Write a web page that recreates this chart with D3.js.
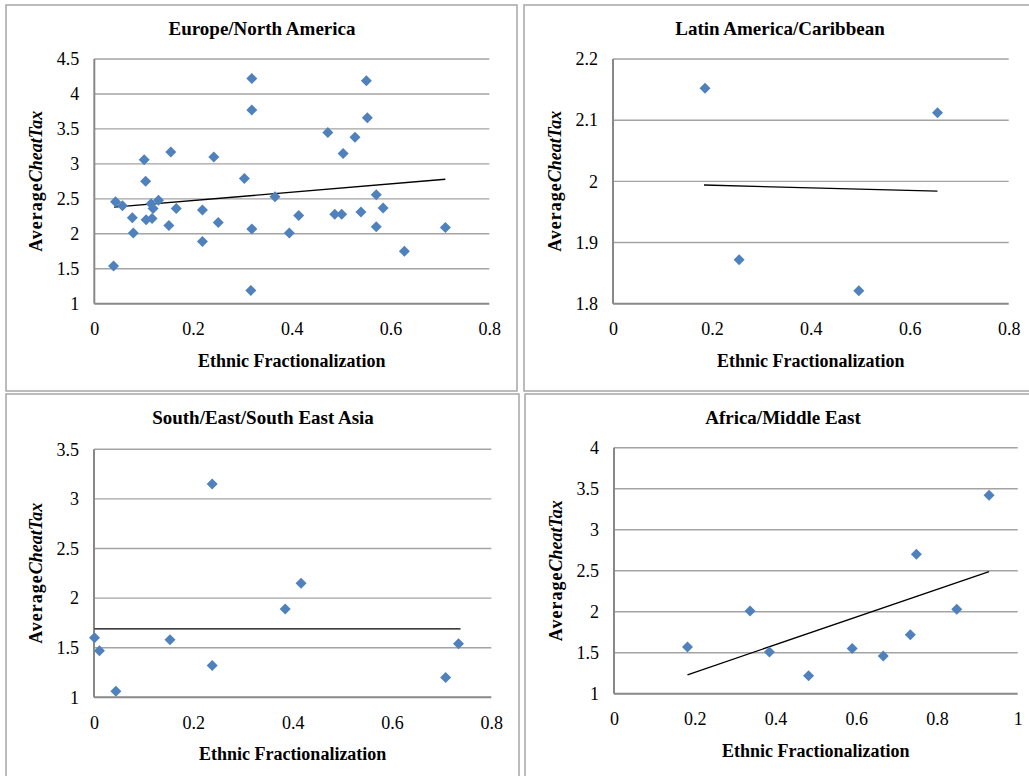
<!DOCTYPE html>
<html>
<head>
<meta charset="utf-8">
<script src="https://cdn.jsdelivr.net/npm/d3@7"></script>
<style>
  html, body { margin: 0; padding: 0; background: #fff; }
  svg { display: block; }
</style>
</head>
<body>
<svg id="chart" width="1029" height="776"></svg>
<script>
// ---------------- DATA ----------------
const panelTitles = ["Europe/North America", "Latin America/Caribbean", "South/East/South East Asia", "Africa/Middle East"];
const xAxisTitle = "Ethnic Fractionalization";

// Europe / North America
const euroX = [0.039, 0.043, 0.057, 0.077, 0.079, 0.101, 0.104, 0.105, 0.115, 0.119, 0.117, 0.130, 0.155, 0.151, 0.166, 0.219, 0.219, 0.242, 0.251, 0.304, 0.319, 0.319, 0.319, 0.317, 0.366, 0.395, 0.414, 0.473, 0.504, 0.528, 0.487, 0.501, 0.540, 0.551, 0.553, 0.571, 0.571, 0.585, 0.628, 0.711];
const euroY = [1.54, 2.46, 2.40, 2.23, 2.01, 3.06, 2.75, 2.20, 2.43, 2.36, 2.22, 2.48, 3.17, 2.12, 2.36, 2.34, 1.89, 3.10, 2.16, 2.79, 4.22, 3.77, 2.07, 1.19, 2.53, 2.01, 2.26, 3.45, 3.15, 3.38, 2.28, 2.28, 2.31, 4.19, 3.66, 2.56, 2.10, 2.37, 1.75, 2.09];
const euroTrendX = [0.04, 0.711];
const euroTrendY = [2.38, 2.78];
const euroXTicks = [0, 0.2, 0.4, 0.6, 0.8];
const euroYTicks = [1, 1.5, 2, 2.5, 3, 3.5, 4, 4.5];

// Latin America / Caribbean
const latinX = [0.186, 0.656, 0.255, 0.497];
const latinY = [2.152, 2.112, 1.872, 1.821];
const latinTrendX = [0.184, 0.656];
const latinTrendY = [1.994, 1.984];
const latinXTicks = [0, 0.2, 0.4, 0.6, 0.8];
const latinYTicks = [1.8, 1.9, 2.0, 2.1, 2.2];

// South / East / South East Asia
const asiaX = [0.001, 0.011, 0.044, 0.153, 0.238, 0.238, 0.385, 0.417, 0.708, 0.734];
const asiaY = [1.60, 1.47, 1.06, 1.58, 3.15, 1.32, 1.89, 2.15, 1.20, 1.54];
const asiaTrendX = [0.001, 0.738];
const asiaTrendY = [1.69, 1.69];
const asiaXTicks = [0, 0.2, 0.4, 0.6, 0.8];
const asiaYTicks = [1, 1.5, 2, 2.5, 3, 3.5];

// Africa / Middle East
const africaX = [0.182, 0.337, 0.385, 0.482, 0.590, 0.667, 0.734, 0.749, 0.849, 0.929];
const africaY = [1.57, 2.01, 1.51, 1.22, 1.55, 1.46, 1.72, 2.70, 2.03, 3.42];
const africaTrendX = [0.182, 0.929];
const africaTrendY = [1.23, 2.49];
const africaXTicks = [0, 0.2, 0.4, 0.6, 0.8, 1];
const africaYTicks = [1, 1.5, 2, 2.5, 3, 3.5, 4];

// ---------------- LAYOUT ----------------
const svg = d3.select("#chart");
const FONT = "'Liberation Serif', 'Times New Roman', Times, serif";

const panels = [
  { title: panelTitles[0], xs: euroX, ys: euroY, tx: euroTrendX, ty: euroTrendY, xTicks: euroXTicks, yTicks: euroYTicks,
    box: [6, 5, 517, 391], plot: [94.3, 59, 489.3, 303.7], titleCx: 262 },
  { title: panelTitles[1], xs: latinX, ys: latinY, tx: latinTrendX, ty: latinTrendY, xTicks: latinXTicks, yTicks: latinYTicks,
    box: [524, 5, 1040, 391], plot: [613, 59, 1008.7, 303.7], titleCx: 780 },
  { title: panelTitles[2], xs: asiaX, ys: asiaY, tx: asiaTrendX, ty: asiaTrendY, xTicks: asiaXTicks, yTicks: asiaYTicks,
    box: [6, 394, 519, 790], plot: [94, 449.3, 491.3, 697.3], titleCx: 263 },
  { title: panelTitles[3], xs: africaX, ys: africaY, tx: africaTrendX, ty: africaTrendY, xTicks: africaXTicks, yTicks: africaYTicks,
    box: [525, 394, 1040, 790], plot: [614, 447.7, 1017.7, 693.7], titleCx: 783 }
];

const numFmt = v => (Math.round(v * 10) / 10).toString();

function styleTicks(sel) {
  sel.attr("font-family", FONT).attr("font-size", 18);
  sel.selectAll("text")
    .attr("font-family", FONT).attr("font-size", 18)
    .style("font-family", FONT).style("font-size", "18px").attr("fill", "#000");
}

panels.forEach(p => {
  const g = svg.append("g");
  const [bx0, by0, bx1, by1] = p.box;
  g.append("rect")
    .attr("x", bx0).attr("y", by0)
    .attr("width", bx1 - bx0).attr("height", by1 - by0)
    .attr("fill", "#fff").attr("stroke", "#a6a6a6").attr("stroke-width", 1.5);

  const [L, T, R, B] = p.plot;
  const x = d3.scaleLinear().domain([p.xTicks[0], p.xTicks[p.xTicks.length - 1]]).range([L, R]);
  const y = d3.scaleLinear().domain([p.yTicks[0], p.yTicks[p.yTicks.length - 1]]).range([B, T]);

  // gridlines
  g.append("g").selectAll("line").data(p.yTicks.slice(1)).join("line")
    .attr("x1", L).attr("x2", R)
    .attr("y1", d => y(d)).attr("y2", d => y(d))
    .attr("stroke", "#a3a3a3").attr("stroke-width", 1.4);

  // y axis labels
  const yAxis = d3.axisLeft(y).tickValues(p.yTicks).tickSize(0).tickPadding(15).tickFormat(numFmt);
  const ya = g.append("g").attr("transform", `translate(${L},0)`).call(yAxis);
  ya.select(".domain").remove();
  styleTicks(ya);

  // x axis labels
  const xAxis = d3.axisBottom(x).tickValues(p.xTicks).tickSize(0).tickPadding(19).tickFormat(numFmt);
  const xa = g.append("g").attr("transform", `translate(0,${B})`).call(xAxis);
  xa.select(".domain").remove();
  styleTicks(xa);

  // axis lines
  g.append("line").attr("x1", L).attr("x2", L).attr("y1", T).attr("y2", B)
    .attr("stroke", "#888").attr("stroke-width", 2);
  g.append("line").attr("x1", L).attr("x2", R).attr("y1", B).attr("y2", B)
    .attr("stroke", "#888").attr("stroke-width", 2);

  // trend line
  g.append("line")
    .attr("x1", x(p.tx[0])).attr("y1", y(p.ty[0]))
    .attr("x2", x(p.tx[1])).attr("y2", y(p.ty[1]))
    .attr("stroke", "#000").attr("stroke-width", 1.3);

  // points
  const pts = p.xs.map((v, i) => [v, p.ys[i]]);
  const diamond = "M0,-5.5L5.5,0L0,5.5L-5.5,0Z";
  g.append("g").selectAll("path").data(pts).join("path")
    .attr("d", diamond)
    .attr("transform", d => `translate(${x(d[0])},${y(d[1])})`)
    .attr("fill", "#4f81bd");

  // title
  g.append("text").attr("x", p.titleCx).attr("y", by0 + 30)
    .attr("text-anchor", "middle")
    .style("font-family", FONT).style("font-size", "19px").style("font-weight", "bold")
    .attr("fill", "#000")
    .text(p.title);

  // x axis title
  g.append("text").attr("x", (L + R) / 2).attr("y", B + 63)
    .attr("text-anchor", "middle")
    .style("font-family", FONT).style("font-size", "18px").style("font-weight", "bold").attr("fill", "#000")
    .text(xAxisTitle);

  // y axis title
  const yt = g.append("text")
    .attr("transform", `translate(${L - 52},${(T + B) / 2}) rotate(-90)`)
    .attr("text-anchor", "middle")
    .style("font-family", FONT).style("font-size", "18px").style("font-weight", "bold").attr("fill", "#000");
  yt.append("tspan").style("letter-spacing", "1px").text("Average");
  yt.append("tspan").style("font-style", "italic").text("CheatTax");
});
</script>
</body>
</html>
